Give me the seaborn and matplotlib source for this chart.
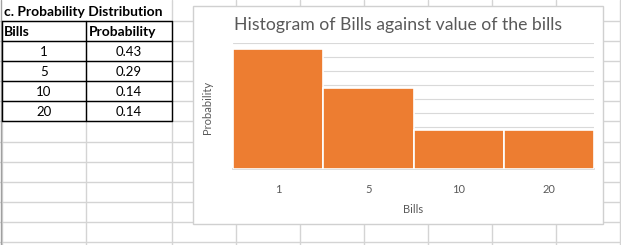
import matplotlib
matplotlib.use("Agg")
import matplotlib.pyplot as plt
import seaborn as sns
from matplotlib.patches import Rectangle

# ---- data ----
bills = ["1", "5", "10", "20"]
probs = [0.43, 0.29, 0.14, 0.14]
prob_labels = ["0.43", "0.29", "0.14", "0.14"]
table_title = "c. Probability Distribution"
col_headers = ["Bills", "Probability"]
chart_title = "Histogram of Bills against value of the bills"
x_label = "Bills"
y_label = "Probability"

sns.set_theme(style="white")
plt.rcParams['font.family'] = ['Lato', 'DejaVu Sans']

W, H = 621, 245
fig = plt.figure(figsize=(W / 100, H / 100), dpi=100)
fig.patch.set_facecolor("white")

# ---- spreadsheet background (pixel coordinates) ----
bg = fig.add_axes([0, 0, 1, 1])
bg.set_xlim(0, W)
bg.set_ylim(H, 0)
bg.axis("off")
grid_c = "#d4d4d4"
for y in [21, 41, 61, 81, 101, 121, 142, 162, 182, 202, 222, 242]:
    bg.axhline(y, color=grid_c, lw=1, zorder=1)
for x in [172, 236, 300, 364, 428, 492, 556, 620]:
    bg.axvline(x, color=grid_c, lw=1, zorder=1)
bg.plot([86, 86], [21, H], color=grid_c, lw=1, zorder=1)
bg.plot([2, 2], [21, H], color=grid_c, lw=1, zorder=1)
bg.axvline(1.0, color="#a0a0a0", lw=1, zorder=1)

# table borders
tk = dict(color="black", lw=1, zorder=3)
for y in [21, 41, 61, 81, 101, 121]:
    bg.plot([2, 172], [y, y], **tk)
for x in [2, 86, 172]:
    bg.plot([x, x], [21, 121], **tk)

bg.text(4, 12, table_title, fontsize=10, fontweight="bold", va="center", ha="left", color="black", zorder=4)
bg.text(4, 31.5, col_headers[0], fontsize=10, fontweight="bold", va="center", ha="left", color="black", zorder=4)
bg.text(89, 31.5, col_headers[1], fontsize=10, fontweight="bold", va="center", ha="left", color="black", zorder=4)
for i, (b, p) in enumerate(zip(bills, prob_labels)):
    yc = 51.5 + 20 * i
    bg.text(44, yc, b, fontsize=9.5, va="center", ha="center", color="black", zorder=4)
    bg.text(129, yc, p, fontsize=9.5, va="center", ha="center", color="black", zorder=4)

# chart area
bg.add_patch(Rectangle((193, 6), 410, 218, facecolor="white", edgecolor="#d0d0d0", lw=1, zorder=5))
bg.text(398, 25, chart_title, fontsize=12.7, color="#595959", ha="center", va="center", zorder=6)
bg.text(208, 107, y_label, fontsize=8, color="#595959", ha="center", va="center", rotation=90, zorder=6)
bg.text(413, 209, x_label, fontsize=8, color="#595959", ha="center", va="center", zorder=6)

# ---- plot area ----
L, R, T, B = 233, 594, 43, 169
ax = fig.add_axes([L / W, (H - B) / H, (R - L) / W, (B - T) / H])
ax.set_zorder(2)
ax.patch.set_alpha(0)
sns.barplot(x=bills, y=probs, color="#ED7D31", width=1.0, saturation=1,
            edgecolor="white", linewidth=1.2, ax=ax, zorder=3)
ax.set_ylim(0, 0.45)
ax.set_yticks([i * 0.05 for i in range(10)])
ax.yaxis.grid(True, color="#d9d9d9", lw=0.8)
ax.set_axisbelow(True)
ax.set_yticklabels([])
ax.tick_params(axis="y", length=0)
ax.tick_params(axis="x", length=0, pad=11, labelsize=8, labelcolor="#595959")
for s in ["left", "right", "top"]:
    ax.spines[s].set_visible(False)
ax.spines["bottom"].set_color("#d9d9d9")
ax.set_xlabel("")
ax.set_ylabel("")

fig.savefig("out.png", dpi=100)
